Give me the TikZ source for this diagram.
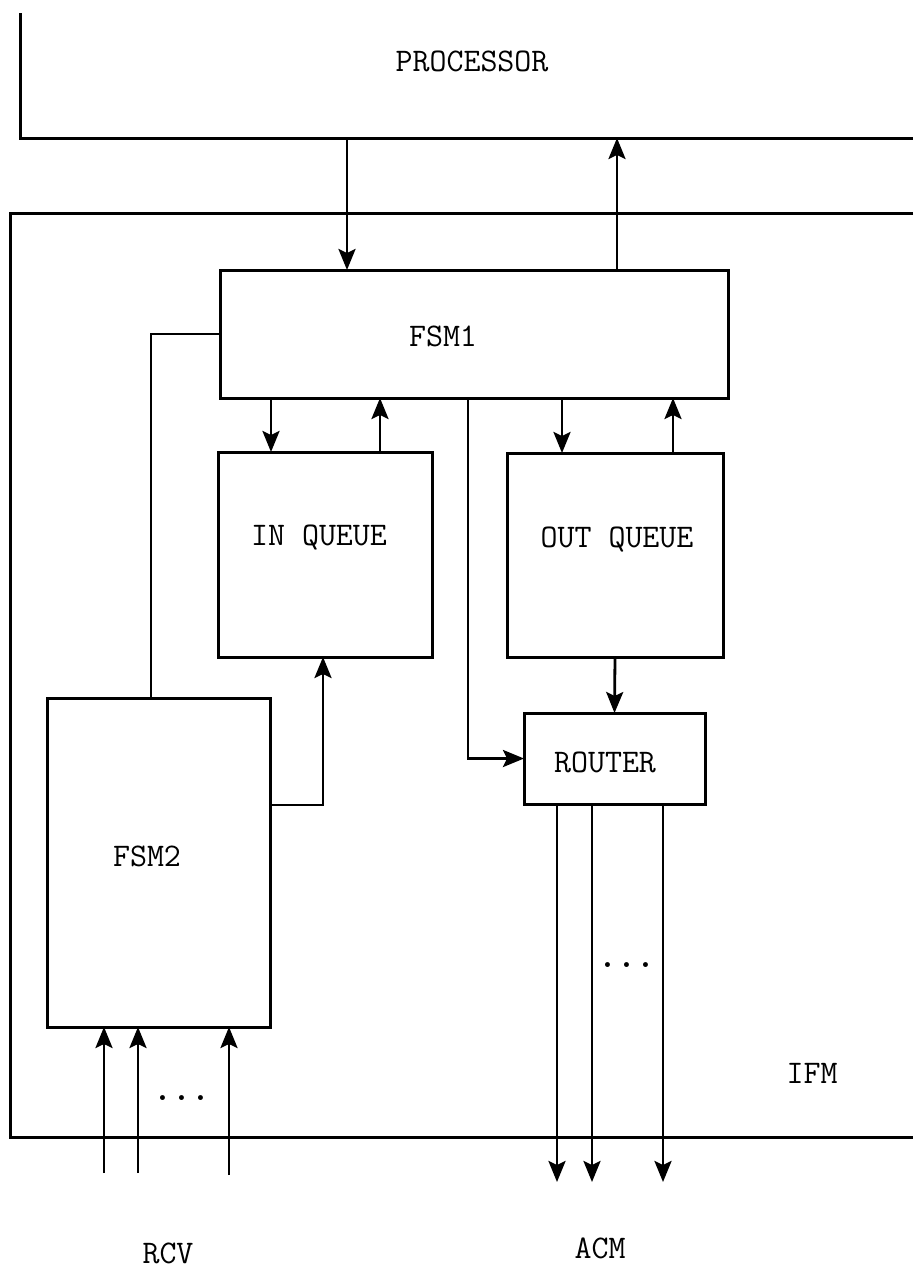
\documentclass[tikz,border=0pt]{standalone}
\usetikzlibrary{arrows.meta}
\begin{document}
\begin{tikzpicture}[x=1pt,y=-1pt,
  box/.style={draw,line width=3pt,rectangle,inner sep=0pt,outer sep=0pt},
  frame/.style={line width=3pt},
  conn/.style={line width=2.4pt},
  arr/.style={line width=2.8pt,-{Stealth[length=21pt,width=17pt,inset=4pt]}},
  lbl/.style={font=\ttfamily\fontsize{33}{33}\selectfont,inner sep=0pt},
  dots/.style={font=\ttfamily\bfseries\fontsize{36}{36}\selectfont,inner sep=0pt}]
\useasboundingbox (0,0) rectangle (913,1269);
% processor (open box)
\draw[frame] (20,13) -- (20,138) -- (913,138);
\node[lbl] (proct) at (472,61) {PROCESSOR};
% IFM (open box)
\draw[frame] (913,213) -- (10,213) -- (10,1137) -- (913,1137);
\node[lbl] (ifmt) at (812,1073) {IFM};
% blocks
\node[box,minimum width=508pt,minimum height=128pt] (fsm1) at (474,334) {};
\node[lbl] (fsm1t) at (443,336) {FSM1};
\node[box,minimum width=214pt,minimum height=205pt] (inq) at (325,554.5) {};
\node[lbl] (inqt) at (319,538) {IN QUEUE};
\node[box,minimum width=216pt,minimum height=204pt] (outq) at (615,555) {};
\node[lbl] (outqt) at (617,540) {OUT QUEUE};
\node[box,minimum width=223pt,minimum height=329pt] (fsm2) at (158.5,862.5) {};
\node[lbl] (fsm2t) at (147,856) {FSM2};
\node[box,minimum width=181pt,minimum height=91pt] (router) at (614.5,758.5) {};
\node[lbl] (routert) at (605,762) {ROUTER};
% processor <-> FSM1
\coordinate (p1) at (347,138);
\coordinate (p2) at (617,138);
\draw[arr] (p1) -- (p1 |- fsm1.north);
\draw[arr] (p2 |- fsm1.north) -- (p2);
% FSM1 -- FSM2
\coordinate (c1) at (151,334);
\draw[conn] (fsm1.west) -- (c1) -- (c1 |- fsm2.north);
% FSM1 <-> queues
\draw[arr] (271,0 |- fsm1.south) -- (271,0 |- inq.north);
\draw[arr] (380,0 |- inq.north) -- (380,0 |- fsm1.south);
\draw[arr] (562,0 |- fsm1.south) -- (562,0 |- outq.north);
\draw[arr] (673,0 |- outq.north) -- (673,0 |- fsm1.south);
% FSM1 -> ROUTER
\draw[arr] (468,0 |- fsm1.south) |- (router.west);
% OUT QUEUE -> ROUTER
\draw[arr] (outq.south) -- (router.north);
% FSM2 -> IN QUEUE
\draw[arr] (fsm2.east |- 0,805) -| (323,0 |- inq.south);
% RCV inputs
\coordinate (r1) at (104,1173);
\coordinate (r2) at (138,1173);
\coordinate (r3) at (229,1175);
\draw[arr] (r1) -- (r1 |- fsm2.south);
\draw[arr] (r2) -- (r2 |- fsm2.south);
\draw[arr] (r3) -- (r3 |- fsm2.south);
\node[dots] (rdots) at (182,1098) {...};
\node[lbl] (rcv) at (168,1253) {RCV};
% ACM outputs
\coordinate (a1) at (557,1182);
\coordinate (a2) at (592,1182);
\coordinate (a3) at (663,1182);
\draw[arr] (a1 |- router.south) -- (a1);
\draw[arr] (a2 |- router.south) -- (a2);
\draw[arr] (a3 |- router.south) -- (a3);
\node[dots] (adots) at (627,965) {...};
\node[lbl] (acm) at (600,1248) {ACM};
\end{tikzpicture}
\end{document}
